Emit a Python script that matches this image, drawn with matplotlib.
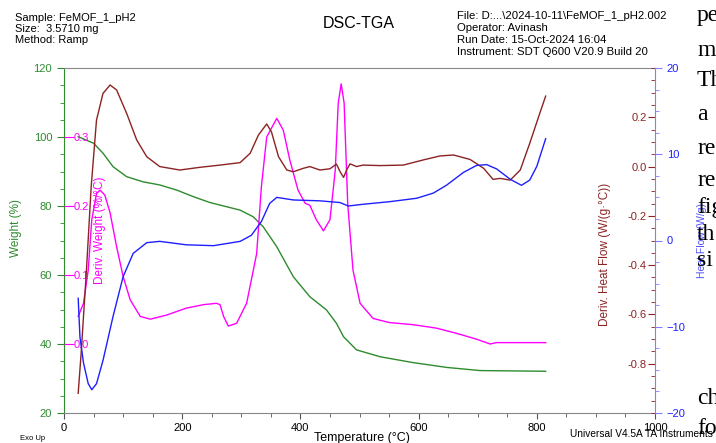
import matplotlib
matplotlib.use('Agg')
import matplotlib.pyplot as plt
from matplotlib.ticker import MultipleLocator

plt.rcParams['font.family'] = ['Liberation Sans', 'DejaVu Sans']

# Weight (%) vs temperature
weight_t = [24, 50, 66, 83, 106, 134, 162, 191, 219, 247, 275, 298, 320, 337, 360, 388,
            416, 444, 461, 473, 495, 535, 591, 648, 704, 760, 815]
weight = [100.1, 98.2, 95.3, 91.4, 88.5, 87.0, 86.1, 84.6, 82.7, 81.0, 79.8, 78.8, 76.9, 74.0,
          68.2, 59.5, 53.7, 49.9, 46.0, 42.1, 38.3, 36.3, 34.6, 33.2, 32.3, 32.2, 32.1]

# Deriv. Weight (%/°C)
dw_t = [24, 33, 41, 47, 55, 61, 69, 78, 89, 100, 112, 129, 146, 174, 207, 236, 258, 264, 270,
        278, 292, 309, 326, 334, 343, 360, 371, 382, 396, 408, 416, 427, 439, 450, 459, 464, 469,
        474, 480, 489, 501, 523, 551, 591, 630, 664, 698, 721, 732, 815]
dw = [0.040, 0.059, 0.107, 0.180, 0.218, 0.223, 0.216, 0.190, 0.141, 0.098, 0.064, 0.040, 0.036,
      0.042, 0.052, 0.057, 0.059, 0.057, 0.040, 0.026, 0.030, 0.059, 0.131, 0.228, 0.300, 0.327,
      0.310, 0.267, 0.223, 0.204, 0.201, 0.180, 0.164, 0.180, 0.252, 0.349, 0.377, 0.349, 0.204,
      0.107, 0.059, 0.037, 0.031, 0.028, 0.023, 0.0155, 0.007, 0.000, 0.002, 0.002]

# Deriv. Heat Flow (W/(g·°C))
dhf_t = [24, 29, 38, 46, 55, 66, 78, 89, 106, 123, 140, 162, 196, 230, 264, 298, 315, 329, 343,
         351, 363, 377, 388, 405, 416, 433, 450, 461, 467, 473, 479, 484, 495, 506, 535, 574, 608,
         636, 659, 687, 710, 726, 738, 755, 772, 788, 805, 815]
dhf = [-0.92, -0.758, -0.42, -0.082, 0.189, 0.297, 0.331, 0.311, 0.216, 0.108, 0.040, 0.000,
       -0.014, -0.003, 0.006, 0.016, 0.054, 0.128, 0.173, 0.141, 0.040, -0.014, -0.021, -0.007,
       0.000, -0.014, -0.009, 0.010, -0.020, -0.044, -0.010, 0.011, 0.000, 0.006, 0.004, 0.006,
       0.027, 0.043, 0.047, 0.029, -0.007, -0.052, -0.048, -0.055, -0.014, 0.094, 0.216, 0.286]

# Heat Flow (W/g)
hf_t = [24, 27, 33, 41, 47, 55, 66, 83, 100, 117, 140, 162, 207, 253, 298, 317, 334, 348, 360,
        388, 433, 467, 481, 506, 551, 597, 625, 647, 676, 698, 715, 732, 755, 774, 788, 800, 815]
hf = [-6.7, -11.2, -14.2, -16.6, -17.3, -16.6, -13.9, -8.8, -4.2, -1.5, -0.25, -0.1, -0.5, -0.6,
      -0.1, 0.6, 2.2, 4.3, 5.0, 4.7, 4.6, 4.4, 4.0, 4.2, 4.5, 4.9, 5.5, 6.4, 7.9, 8.7, 8.8, 8.3,
      7.1, 6.4, 7.0, 8.6, 11.8]

green = '#2e8b2e'
magenta = '#ff00ff'
brown = '#8b2323'
blue = '#1f1fff'

fig = plt.figure(figsize=(7.16, 4.43), dpi=100)
ax = fig.add_axes([64 / 716, 1 - 413 / 443, 591 / 716, 345 / 443])

axm = ax.twinx()
axb = ax.twinx()
axh = ax.twinx()

ax.plot(weight_t, weight, color=green, lw=1)
axm.plot(dw_t, dw, color=magenta, lw=1)
axb.plot(dhf_t, dhf, color=brown, lw=1)
axh.plot(hf_t, hf, color=blue, lw=1)

ax.set_xlim(0, 1000)
ax.set_ylim(20, 120)
axm.set_ylim(-0.1, 0.4)
axb.set_ylim(-1.0, 0.4)
axh.set_ylim(-20, 20)

# x axis
ax.set_xticks([0, 200, 400, 600, 800, 1000])
ax.xaxis.set_minor_locator(MultipleLocator(50))
ax.tick_params(axis='x', which='both', colors='#555555', labelcolor='black', labelsize=8)
ax.tick_params(axis='x', which='major', length=4)
ax.tick_params(axis='x', which='minor', length=3)
ax.set_xlabel('Temperature (°C)', fontsize=9)
ax.xaxis.set_label_coords(0.504, -0.055)

# weight axis
ax.set_yticks([20, 40, 60, 80, 100, 120])
ax.yaxis.set_minor_locator(MultipleLocator(5))
ax.tick_params(axis='y', which='both', colors=green, labelsize=8)
ax.tick_params(axis='y', which='major', length=5)
ax.tick_params(axis='y', which='minor', length=3)
ax.set_ylabel('Weight (%)', color=green, fontsize=8.5)
ax.yaxis.set_label_coords(-0.082, 0.536)
ax.yaxis.label.set_va('center')

for s in ['top', 'bottom']:
    ax.spines[s].set_color('#888888')
ax.spines['left'].set_color(green)
for a in (axm, axb, axh):
    for s in a.spines.values():
        s.set_visible(False)
axh.spines['right'].set_visible(True)
axh.spines['right'].set_color('#8080ff')
ax.spines['right'].set_visible(False)

# deriv. weight axis (inside, on the left)
axm.yaxis.set_ticks_position('left')
axm.yaxis.set_label_position('left')
axm.set_yticks([0.0, 0.1, 0.2, 0.3])
axm.set_yticklabels(['0.0', '0.1', '0.2', '0.3'])
axm.tick_params(axis='y', which='major', direction='in', length=7, colors=magenta,
                labelsize=8, pad=-7)
plt.setp(axm.get_yticklabels(), ha='left')
axm.set_ylabel('Deriv. Weight (%/°C)', color=magenta, fontsize=8.5)
axm.yaxis.set_label_coords(0.061, 0.53)
axm.yaxis.label.set_va('center')

# deriv. heat flow axis (inside, on the right)
axb.set_yticks([-0.8, -0.6, -0.4, -0.2, 0.0, 0.2])
axb.set_yticklabels(['-0.8', '-0.6', '-0.4', '-0.2', '0.0', '0.2'])
axb.yaxis.set_minor_locator(MultipleLocator(0.05))
axb.tick_params(axis='y', which='both', direction='in', colors=brown, labelsize=8, pad=-6)
axb.tick_params(axis='y', which='major', length=5)
axb.tick_params(axis='y', which='minor', length=3)
plt.setp(axb.get_yticklabels(), ha='right')
axb.set_ylabel('Deriv. Heat Flow (W/(g·°C))', color=brown, fontsize=8.5)
axb.yaxis.set_label_coords(0.915, 0.46)
axb.yaxis.label.set_va('center')

# heat flow axis (outside, right)
axh.set_yticks([-20, -10, 0, 10, 20])
axh.yaxis.set_minor_locator(MultipleLocator(2.5))
axh.tick_params(axis='y', which='both', colors='#8080ff', labelcolor=blue, labelsize=8)
axh.tick_params(axis='y', which='major', length=5)
axh.tick_params(axis='y', which='minor', length=3)
axh.set_ylabel('Heat Flow (W/g)', color='#5050ff', fontsize=7.5)
axh.yaxis.set_label_coords(1.0795, 0.5)
axh.yaxis.label.set_va('center')

# header
left_hdr = dict(fontsize=8, va='center', ha='left')
right_hdr = dict(fontsize=8.2, va='center', ha='left')
fig.text(15 / 716, 1 - 18 / 443, 'Sample: FeMOF_1_pH2', **left_hdr)
fig.text(15 / 716, 1 - 29 / 443, 'Size:  3.5710 mg', **left_hdr)
fig.text(15 / 716, 1 - 40 / 443, 'Method: Ramp', **left_hdr)
fig.text(359 / 716, 1 - 23 / 443, 'DSC-TGA', fontsize=11.5, ha='center', va='center')
fig.text(457 / 716, 1 - 16 / 443, 'File: D:...\\2024-10-11\\FeMOF_1_pH2.002', **right_hdr)
fig.text(457 / 716, 1 - 28 / 443, 'Operator: Avinash', **right_hdr)
fig.text(457 / 716, 1 - 40 / 443, 'Run Date: 15-Oct-2024 16:04', **right_hdr)
fig.text(457 / 716, 1 - 52 / 443, 'Instrument: SDT Q600 V20.9 Build 20', **right_hdr)
fig.text(20 / 716, 1 - 438 / 443, 'Exo Up', fontsize=5.5, va='center', ha='left')
fig.text(570 / 716, 1 - 434 / 443, 'Universal V4.5A TA Instruments', fontsize=7.3,
         va='center', ha='left')

# fragments of the surrounding document text at the right edge
doc_lines = ['pe', 'm', 'Th', 'a', 're', 're', 'fig', 'th', 'si', 'ch', 'fo']
doc_y = [15, 50, 80, 115, 148, 180, 208, 235, 260, 398, 428]
for word, yy in zip(doc_lines, doc_y):
    fig.text(697 / 716, 1 - yy / 443, word, fontsize=17, family='Liberation Serif',
             va='center', ha='left')

fig.savefig('out.png', dpi=100)
